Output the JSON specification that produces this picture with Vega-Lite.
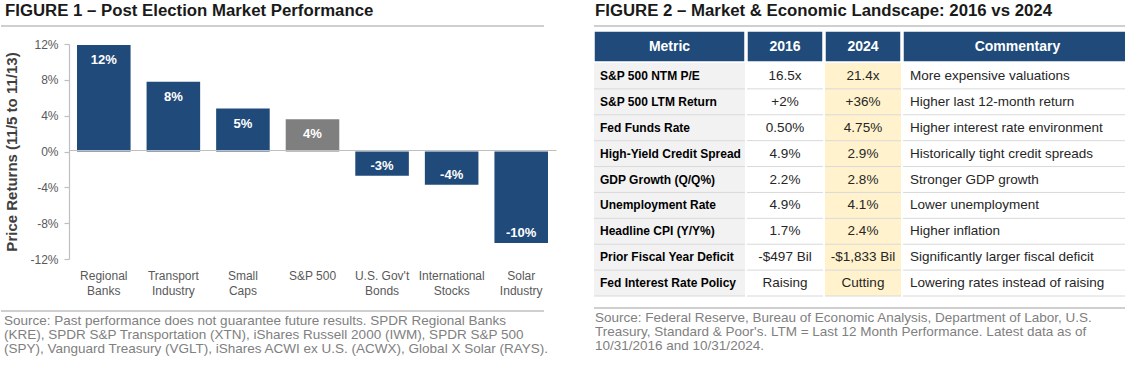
{
  "$schema": "https://vega.github.io/schema/vega-lite/v6.json",
  "padding": {"left": 0, "top": 3, "right": 0, "bottom": 0},
  "background": "white",
  "config": {
    "font": "Liberation Sans",
    "view": {"stroke": null},
    "locale": {"number": {"decimal": ".", "thousands": ",", "grouping": [3], "currency": ["$", ""], "minus": "-"}},
    "title": {"anchor": "start", "frame": "group", "fontSize": 16.8, "fontWeight": "bold", "color": "#1a1a1a", "baseline": "alphabetic", "offset": 5}
  },
  "datasets": {
    "bars": [
      {"category": "Regional Banks", "return": 0.119},
      {"category": "Transport Industry", "return": 0.078},
      {"category": "Small Caps", "return": 0.048},
      {"category": "S&P 500", "return": 0.036},
      {"category": "U.S. Gov't Bonds", "return": -0.027},
      {"category": "International Stocks", "return": -0.037},
      {"category": "Solar Industry", "return": -0.102}
    ],
    "table": [
      {"metric": "S&P 500 NTM P/E", "v2016": "16.5x", "v2024": "21.4x", "commentary": "More expensive valuations"},
      {"metric": "S&P 500 LTM Return", "v2016": "+2%", "v2024": "+36%", "commentary": "Higher last 12-month return"},
      {"metric": "Fed Funds Rate", "v2016": "0.50%", "v2024": "4.75%", "commentary": "Higher interest rate environment"},
      {"metric": "High-Yield Credit Spread", "v2016": "4.9%", "v2024": "2.9%", "commentary": "Historically tight credit spreads"},
      {"metric": "GDP Growth (Q/Q%)", "v2016": "2.2%", "v2024": "2.8%", "commentary": "Stronger GDP growth"},
      {"metric": "Unemployment Rate", "v2016": "4.9%", "v2024": "4.1%", "commentary": "Lower unemployment"},
      {"metric": "Headline CPI (Y/Y%)", "v2016": "1.7%", "v2024": "2.4%", "commentary": "Higher inflation"},
      {"metric": "Prior Fiscal Year Deficit", "v2016": "-$497 Bil", "v2024": "-$1,833 Bil", "commentary": "Significantly larger fiscal deficit"},
      {"metric": "Fed Interest Rate Policy", "v2016": "Raising", "v2024": "Cutting", "commentary": "Lowering rates instead of raising"}
    ]
  },
  "spacing": 37,
  "hconcat": [
    {
      "spacing": 14,
      "vconcat": [
        {
          "spacing": 11,
          "vconcat": [
            {
              "width": 543, "height": 1,
              "title": {"text": "FIGURE 1 – Post Election Market Performance", "dx": 4},
              "data": {"values": [{}]},
              "mark": {"type": "rule", "color": "#bfbfbf", "strokeWidth": 1.5},
              "encoding": {"y": {"datum": 1, "type": "quantitative", "scale": {"domain": [0, 1]}, "axis": null}}
            },
            {
              "width": 555, "height": 215,
              "data": {"name": "bars"},
              "encoding": {
                "x": {
                  "field": "category", "type": "nominal", "sort": null,
                  "scale": {"range": [68, 555], "paddingInner": 0.23, "paddingOuter": 0.115},
                  "axis": {
                    "title": null, "orient": "bottom", "offset": -109, "domain": true, "domainColor": "#bfbfbf", "domainWidth": 1.2,
                    "ticks": false, "labelAngle": 0, "labelPadding": 120,
                    "labelFontSize": 12, "labelColor": "#595959", "labelLineHeight": 15, "labelLimit": 0,
                    "labelOverlap": false, "zindex": 1,
                    "labelExpr": "datum.label == 'S&P 500' ? datum.label : [slice(datum.label, 0, lastindexof(datum.label, ' ')), slice(datum.label, lastindexof(datum.label, ' ') + 1)]"
                  }
                }
              },
              "layer": [
                {
                  "mark": {"type": "bar"},
                  "encoding": {
                    "y": {
                      "field": "return", "type": "quantitative",
                      "scale": {"domain": [-0.12, 0.12], "nice": false, "zero": false},
                      "axis": {
                        "values": [-0.12, -0.08, -0.04, 0, 0.04, 0.08, 0.12], "tickCount": 7, "format": ".0%", "offset": -68,
                        "domain": true, "ticks": true, "grid": false, "labelOverlap": false,
                        "domainColor": "#bfbfbf", "domainWidth": 1.2, "tickColor": "#bfbfbf", "tickWidth": 1.2, "tickSize": 5,
                        "labelColor": "#595959", "labelFontSize": 12, "labelPadding": 6,
                        "title": "Price Returns (11/5 to 11/13)", "titleFontSize": 15, "titleColor": "#404040",
                        "titleFontWeight": "bold", "titlePadding": 10
                      }
                    },
                    "color": {"condition": {"test": "datum.category === 'S&P 500'", "value": "#7f7f7f"}, "value": "#1F4A7A"}
                  }
                },
                {
                  "transform": [{"filter": "datum['return'] >= 0"}],
                  "mark": {"type": "text", "baseline": "middle", "dy": 15, "color": "white", "fontWeight": "bold", "fontSize": 13},
                  "encoding": {
                    "y": {"field": "return", "type": "quantitative"},
                    "text": {"field": "return", "type": "quantitative", "format": ".0%"}
                  }
                },
                {
                  "transform": [{"filter": "datum['return'] < 0"}],
                  "mark": {"type": "text", "baseline": "middle", "dy": -10, "color": "white", "fontWeight": "bold", "fontSize": 13},
                  "encoding": {
                    "y": {"field": "return", "type": "quantitative"},
                    "text": {"field": "return", "type": "quantitative", "format": ".0%"}
                  }
                }
              ]
            }
          ]
        },
        {
          "width": 543, "height": 1,
          "data": {"values": [{}]},
          "title": {
            "text": ["Source: Past performance does not guarantee future results. SPDR Regional Banks", "(KRE), SPDR S&P Transportation (XTN), iShares Russell 2000 (IWM), SPDR S&P 500", "(SPY), Vanguard Treasury (VGLT), iShares ACWI ex U.S. (ACWX), Global X Solar (RAYS)."],
            "orient": "bottom", "fontSize": 13.5, "fontWeight": "normal", "color": "#808080",
            "baseline": "top", "offset": 2, "lineHeight": 14, "dx": 3
          },
          "mark": {"type": "rule", "color": "#bfbfbf", "strokeWidth": 1.5},
          "encoding": {"y": {"datum": 1, "type": "quantitative", "scale": {"domain": [0, 1]}, "axis": null}}
        }
      ]
    },
    {
      "spacing": 10,
      "vconcat": [
        {
          "spacing": 3,
          "vconcat": [
            {
              "width": 533, "height": 1,
              "title": {"text": "FIGURE 2 – Market & Economic Landscape: 2016 vs 2024", "dx": 1},
              "data": {"values": [{}]},
              "mark": {"type": "rule", "color": "#bfbfbf", "strokeWidth": 1.5},
              "encoding": {"y": {"datum": 1, "type": "quantitative", "scale": {"domain": [0, 1]}, "axis": null}}
            },
            {
              "spacing": 0,
              "vconcat": [
                {
                  "spacing": 0,
                  "hconcat": [
                    {
                      "width": 151, "height": 31,
                      "data": {"values": [{"label": "Metric"}]},
                      "layer": [
                        {"mark": {"type": "rect", "color": "#1F4A7A", "stroke": "white", "strokeWidth": 1.5}, "encoding": {}},
                        {"mark": {"type": "text", "color": "white", "fontWeight": "bold", "fontSize": 14}, "encoding": {"text": {"field": "label"}}}
                      ]
                    },
                    {
                      "width": 76, "height": 31,
                      "data": {"values": [{"label": "2016"}]},
                      "layer": [
                        {"mark": {"type": "rect", "color": "#1F4A7A", "stroke": "white", "strokeWidth": 1.5}, "encoding": {}},
                        {"mark": {"type": "text", "color": "white", "fontWeight": "bold", "fontSize": 14}, "encoding": {"text": {"field": "label"}}}
                      ]
                    },
                    {
                      "width": 76, "height": 31,
                      "data": {"values": [{"label": "2024"}]},
                      "layer": [
                        {"mark": {"type": "rect", "color": "#1F4A7A", "stroke": "white", "strokeWidth": 1.5}, "encoding": {}},
                        {"mark": {"type": "text", "color": "white", "fontWeight": "bold", "fontSize": 14}, "encoding": {"text": {"field": "label"}}}
                      ]
                    },
                    {
                      "width": 229, "height": 31,
                      "data": {"values": [{"label": "Commentary"}]},
                      "layer": [
                        {"mark": {"type": "rect", "color": "#1F4A7A", "stroke": "white", "strokeWidth": 1.5}, "encoding": {}},
                        {"mark": {"type": "text", "color": "white", "fontWeight": "bold", "fontSize": 14}, "encoding": {"text": {"field": "label"}}}
                      ]
                    }
                  ]
                },
                {
                  "spacing": 0,
                  "hconcat": [
                    {
                      "width": 151, "height": 233,
                      "data": {"name": "table"},
                      "encoding": {"y": {"field": "metric", "type": "nominal", "sort": null, "scale": {"paddingInner": 0, "paddingOuter": 0}, "axis": null}},
                      "layer": [
                        {"mark": {"type": "rect", "color": "#f2f2f2"}},
                        {"mark": {"type": "rule", "color": "#d9d9d9", "strokeWidth": 1}, "encoding": {"y": {"field": "metric", "type": "nominal", "sort": null, "bandPosition": 1}}},
                        {"mark": {"type": "text", "align": "left", "dx": -69.5, "fontWeight": "bold", "fontSize": 12, "color": "#000000"}, "encoding": {"text": {"field": "metric"}}}
                      ]
                    },
                    {
                      "width": 76, "height": 233,
                      "data": {"name": "table"},
                      "encoding": {"y": {"field": "metric", "type": "nominal", "sort": null, "scale": {"paddingInner": 0, "paddingOuter": 0}, "axis": null}},
                      "layer": [
                        {"mark": {"type": "rule", "color": "#d9d9d9", "strokeWidth": 1}, "encoding": {"y": {"field": "metric", "type": "nominal", "sort": null, "bandPosition": 1}}},
                        {"mark": {"type": "text", "fontSize": 13.5, "color": "#262626"}, "encoding": {"text": {"field": "v2016"}}}
                      ]
                    },
                    {
                      "width": 76, "height": 233,
                      "data": {"name": "table"},
                      "encoding": {"y": {"field": "metric", "type": "nominal", "sort": null, "scale": {"paddingInner": 0, "paddingOuter": 0}, "axis": null}},
                      "layer": [
                        {"mark": {"type": "rect", "color": "#fff2cc"}},
                        {"mark": {"type": "rule", "color": "#d9d9d9", "strokeWidth": 1}, "encoding": {"y": {"field": "metric", "type": "nominal", "sort": null, "bandPosition": 1}}},
                        {"mark": {"type": "text", "fontSize": 13.5, "color": "#262626"}, "encoding": {"text": {"field": "v2024"}}}
                      ]
                    },
                    {
                      "width": 229, "height": 233,
                      "data": {"name": "table"},
                      "encoding": {"y": {"field": "metric", "type": "nominal", "sort": null, "scale": {"paddingInner": 0, "paddingOuter": 0}, "axis": null}},
                      "layer": [
                        {"mark": {"type": "rule", "color": "#d9d9d9", "strokeWidth": 1}, "encoding": {"y": {"field": "metric", "type": "nominal", "sort": null, "bandPosition": 1}}},
                        {"mark": {"type": "text", "align": "left", "dx": -107.5, "fontSize": 13.5, "color": "#262626"}, "encoding": {"text": {"field": "commentary"}}}
                      ]
                    }
                  ]
                }
              ]
            }
          ]
        },
        {
          "width": 533, "height": 1,
          "data": {"values": [{}]},
          "title": {
            "text": ["Source: Federal Reserve, Bureau of Economic Analysis, Department of Labor, U.S.", "Treasury, Standard & Poor's. LTM = Last 12 Month Performance. Latest data as of", "10/31/2016 and 10/31/2024."],
            "orient": "bottom", "fontSize": 13.5, "fontWeight": "normal", "color": "#808080",
            "baseline": "top", "offset": 2, "lineHeight": 14, "dx": 1
          },
          "mark": {"type": "rule", "color": "#bfbfbf", "strokeWidth": 1.5},
          "encoding": {"y": {"datum": 1, "type": "quantitative", "scale": {"domain": [0, 1]}, "axis": null}}
        }
      ]
    }
  ]
}
